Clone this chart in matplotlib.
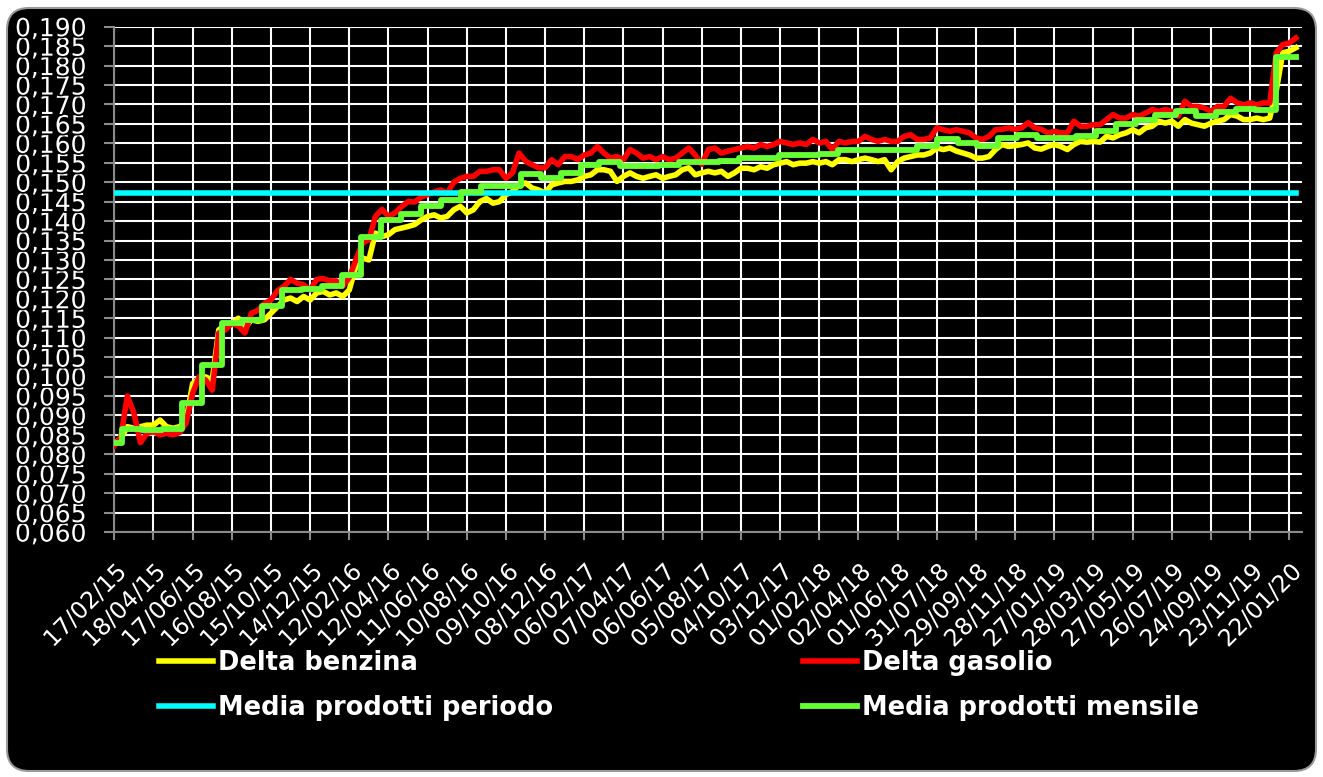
import numpy as np
import pandas as pd
import matplotlib
matplotlib.use("Agg")
import matplotlib.pyplot as plt
import matplotlib.patheffects as pe
from matplotlib.patches import FancyBboxPatch


# values, one every 10 days starting 17/02/15
start = "2015-02-17"

delta_gasolio = [
    0.0822, 0.0845, 0.0950, 0.0906, 0.0830, 0.0854, 0.0858, 0.0850, 0.0854, 0.0850,
    0.0856, 0.0880, 0.0957, 0.1000, 0.0991, 0.0965, 0.1112, 0.1120, 0.1137, 0.1130,
    0.1112, 0.1163, 0.1170, 0.1188, 0.1197, 0.1221, 0.1232, 0.1250, 0.1240, 0.1236,
    0.1223, 0.1250, 0.1252, 0.1246, 0.1246, 0.1232, 0.1255, 0.1300, 0.1343, 0.1352,
    0.1412, 0.1430, 0.1412, 0.1421, 0.1437, 0.1450, 0.1449, 0.1462, 0.1468, 0.1475,
    0.1480, 0.1472, 0.1500, 0.1510, 0.1515, 0.1515, 0.1528, 0.1528, 0.1532, 0.1532,
    0.1510, 0.1524, 0.1575, 0.1554, 0.1545, 0.1537, 0.1537, 0.1558, 0.1545, 0.1566,
    0.1566, 0.1558, 0.1570, 0.1575, 0.1592, 0.1575, 0.1562, 0.1566, 0.1558, 0.1584,
    0.1575, 0.1562, 0.1566, 0.1558, 0.1566, 0.1558, 0.1562, 0.1575, 0.1588, 0.1570,
    0.1546, 0.1584, 0.1588, 0.1575, 0.1580, 0.1584, 0.1588, 0.1592, 0.1588, 0.1597,
    0.1592, 0.1597, 0.1605, 0.1601, 0.1597, 0.1601, 0.1597, 0.1610, 0.1601, 0.1605,
    0.1584, 0.1605, 0.1601, 0.1605, 0.1605, 0.1618, 0.1610, 0.1605, 0.1610, 0.1605,
    0.1605, 0.1618, 0.1622, 0.1610, 0.1610, 0.1614, 0.1640, 0.1635, 0.1631, 0.1635,
    0.1631, 0.1627, 0.1614, 0.1610, 0.1618, 0.1635, 0.1636, 0.1640, 0.1636, 0.1640,
    0.1653, 0.1640, 0.1636, 0.1627, 0.1631, 0.1627, 0.1627, 0.1657, 0.1644, 0.1644,
    0.1648, 0.1648, 0.1661, 0.1674, 0.1665, 0.1665, 0.1674, 0.1670, 0.1678, 0.1687,
    0.1682, 0.1687, 0.1682, 0.1670, 0.1708, 0.1695, 0.1695, 0.1691, 0.1682, 0.1695,
    0.1695, 0.1716, 0.1704, 0.1699, 0.1704, 0.1699, 0.1704, 0.1704, 0.1833, 0.1854,
    0.1858, 0.1871,
]

delta_benzina = [
    0.0828, 0.0840, 0.0871, 0.0867, 0.0871, 0.0875, 0.0875, 0.0888, 0.0871, 0.0867,
    0.0871, 0.0888, 0.0982, 0.0995, 0.0999, 0.0991, 0.1120, 0.1133, 0.1137, 0.1150,
    0.1125, 0.1146, 0.1142, 0.1146, 0.1163, 0.1180, 0.1197, 0.1202, 0.1193, 0.1206,
    0.1197, 0.1215, 0.1219, 0.1210, 0.1215, 0.1206, 0.1223, 0.1283, 0.1305, 0.1300,
    0.1369, 0.1360, 0.1365, 0.1378, 0.1382, 0.1386, 0.1391, 0.1403, 0.1412, 0.1416,
    0.1408, 0.1412, 0.1429, 0.1438, 0.1421, 0.1429, 0.1450, 0.1458, 0.1446, 0.1450,
    0.1468, 0.1476, 0.1493, 0.1498, 0.1485, 0.1480, 0.1472, 0.1493, 0.1498, 0.1502,
    0.1502, 0.1506, 0.1515, 0.1519, 0.1532, 0.1532, 0.1528, 0.1502, 0.1515, 0.1524,
    0.1515, 0.1510, 0.1515, 0.1519, 0.1510, 0.1515, 0.1519, 0.1532, 0.1537, 0.1519,
    0.1524, 0.1528, 0.1524, 0.1528, 0.1515, 0.1524, 0.1536, 0.1536, 0.1532, 0.1540,
    0.1536, 0.1545, 0.1549, 0.1553, 0.1545, 0.1549, 0.1549, 0.1553, 0.1549, 0.1553,
    0.1545, 0.1558, 0.1558, 0.1553, 0.1558, 0.1562, 0.1558, 0.1553, 0.1558, 0.1532,
    0.1553, 0.1562, 0.1566, 0.1570, 0.1570, 0.1575, 0.1588, 0.1584, 0.1588, 0.1580,
    0.1575, 0.1570, 0.1562, 0.1562, 0.1566, 0.1584, 0.1597, 0.1592, 0.1594, 0.1597,
    0.1601, 0.1588, 0.1585, 0.1592, 0.1597, 0.1592, 0.1584, 0.1597, 0.1605, 0.1603,
    0.1605, 0.1603, 0.1618, 0.1614, 0.1622, 0.1627, 0.1635, 0.1627, 0.1640, 0.1644,
    0.1657, 0.1652, 0.1657, 0.1644, 0.1661, 0.1652, 0.1648, 0.1644, 0.1652, 0.1657,
    0.1661, 0.1674, 0.1670, 0.1661, 0.1661, 0.1665, 0.1661, 0.1665, 0.1735, 0.1833,
    0.1837, 0.1846,
]

# monthly average, Feb 2015 .. Jan 2020
media_mensile = [
    0.0828, 0.0864, 0.0863, 0.0866, 0.0933, 0.1030, 0.1137, 0.1146, 0.1182, 0.1223, 0.1224,
    0.1233, 0.1262, 0.1359, 0.1402, 0.1419, 0.1438, 0.1455, 0.1476, 0.1491, 0.1490, 0.1522, 0.1511,
    0.1524, 0.1545, 0.1553, 0.1542, 0.1542, 0.1543, 0.1553, 0.1553, 0.1554, 0.1562, 0.1562, 0.1571,
    0.1571, 0.1572, 0.1582, 0.1582, 0.1582, 0.1583, 0.1592, 0.1611, 0.1602, 0.1592, 0.1613, 0.1622,
    0.1614, 0.1614, 0.1620, 0.1631, 0.1650, 0.1661, 0.1674, 0.1682, 0.1671, 0.1680, 0.1688, 0.1687,
    0.1821,
]

media_periodo = 0.1472

tick_labels = [
    "17/02/15", "18/04/15", "17/06/15", "16/08/15", "15/10/15", "14/12/15",
    "12/02/16", "12/04/16", "11/06/16", "10/08/16", "09/10/16", "08/12/16",
    "06/02/17", "07/04/17", "06/06/17", "05/08/17", "04/10/17", "03/12/17",
    "01/02/18", "02/04/18", "01/06/18", "31/07/18", "29/09/18", "28/11/18",
    "27/01/19", "28/03/19", "27/05/19", "26/07/19", "24/09/19", "23/11/19",
    "22/01/20",
]

dates = pd.date_range(start, periods=len(delta_gasolio), freq="10D")
month_dates = [pd.Timestamp(start)] + list(pd.date_range("2015-03-01", periods=len(media_mensile) - 1, freq="MS"))
month_dates.append(dates[-1])
month_vals = media_mensile + [media_mensile[-1]]
tick_dates = pd.to_datetime(tick_labels, format="%d/%m/%y")

fig = plt.figure(figsize=(13.23, 7.77), dpi=100, facecolor="white")
bg = FancyBboxPatch((0.07, 0.06), 13.09, 7.63, boxstyle="round,pad=0,rounding_size=0.22",
                    transform=fig.dpi_scale_trans, facecolor="black", edgecolor="#9a9a9a",
                    lw=1.5, zorder=-10)
fig.patches.append(bg)

ax = fig.add_axes([0.0864, 0.3153, 0.8975, 0.6503])
ax.set_facecolor("black")

ax.plot(dates, delta_benzina, color="#ffff00", lw=4.0, label="Delta benzina", zorder=3)
ax.plot(dates, delta_gasolio, color="#ff0000", lw=4.0, label="Delta gasolio", zorder=4)
ax.plot(dates, [media_periodo] * len(dates), color="#00ffff", lw=4.0, label="Media prodotti periodo", zorder=5)
ax.plot(month_dates, month_vals, color="#66ff33", lw=4.2, drawstyle="steps-post",
        label="Media prodotti mensile", zorder=6)

ax.set_ylim(0.060, 0.190)
yt = np.arange(0.060, 0.19001, 0.005)
ax.set_yticks(yt, [f"{v:.3f}".replace(".", ",") for v in yt])
ax.set_xlim(pd.Timestamp(start), pd.Timestamp("2020-02-10"))
ax.set_xticks(tick_dates, tick_labels, rotation=45, ha="right", rotation_mode="anchor")

ax.grid(True, color="white", lw=1.5)
ax.set_axisbelow(True)
for s in ["top", "right"]:
    ax.spines[s].set_visible(False)
for s in ["left", "bottom"]:
    ax.spines[s].set_color("#8a8a8a")
    ax.spines[s].set_linewidth(1.5)
ax.tick_params(axis="y", colors="#8a8a8a", labelcolor="white", length=7, width=1.5, pad=13, labelsize=18)
ax.tick_params(axis="x", colors="#8a8a8a", labelcolor="white", length=6, width=1.5, pad=14, labelsize=17)
for lbl in ax.get_yticklabels() + ax.get_xticklabels():
    lbl.set_path_effects([pe.withStroke(linewidth=2.5, foreground="black")])

h, l = ax.get_legend_handles_labels()
order = [0, 2, 1, 3]
leg = fig.legend([h[i] for i in order], [l[i] for i in order], ncol=2, frameon=False,
                 loc="upper left", bbox_to_anchor=(0.103, 0.193), handlelength=2.1,
                 handletextpad=0.2, columnspacing=9.7, labelspacing=0.75,
                 prop={"weight": "bold", "size": 18.5})
for t in leg.get_texts():
    t.set_color("white")

fig.savefig("out.png", dpi=100, facecolor=fig.get_facecolor())
